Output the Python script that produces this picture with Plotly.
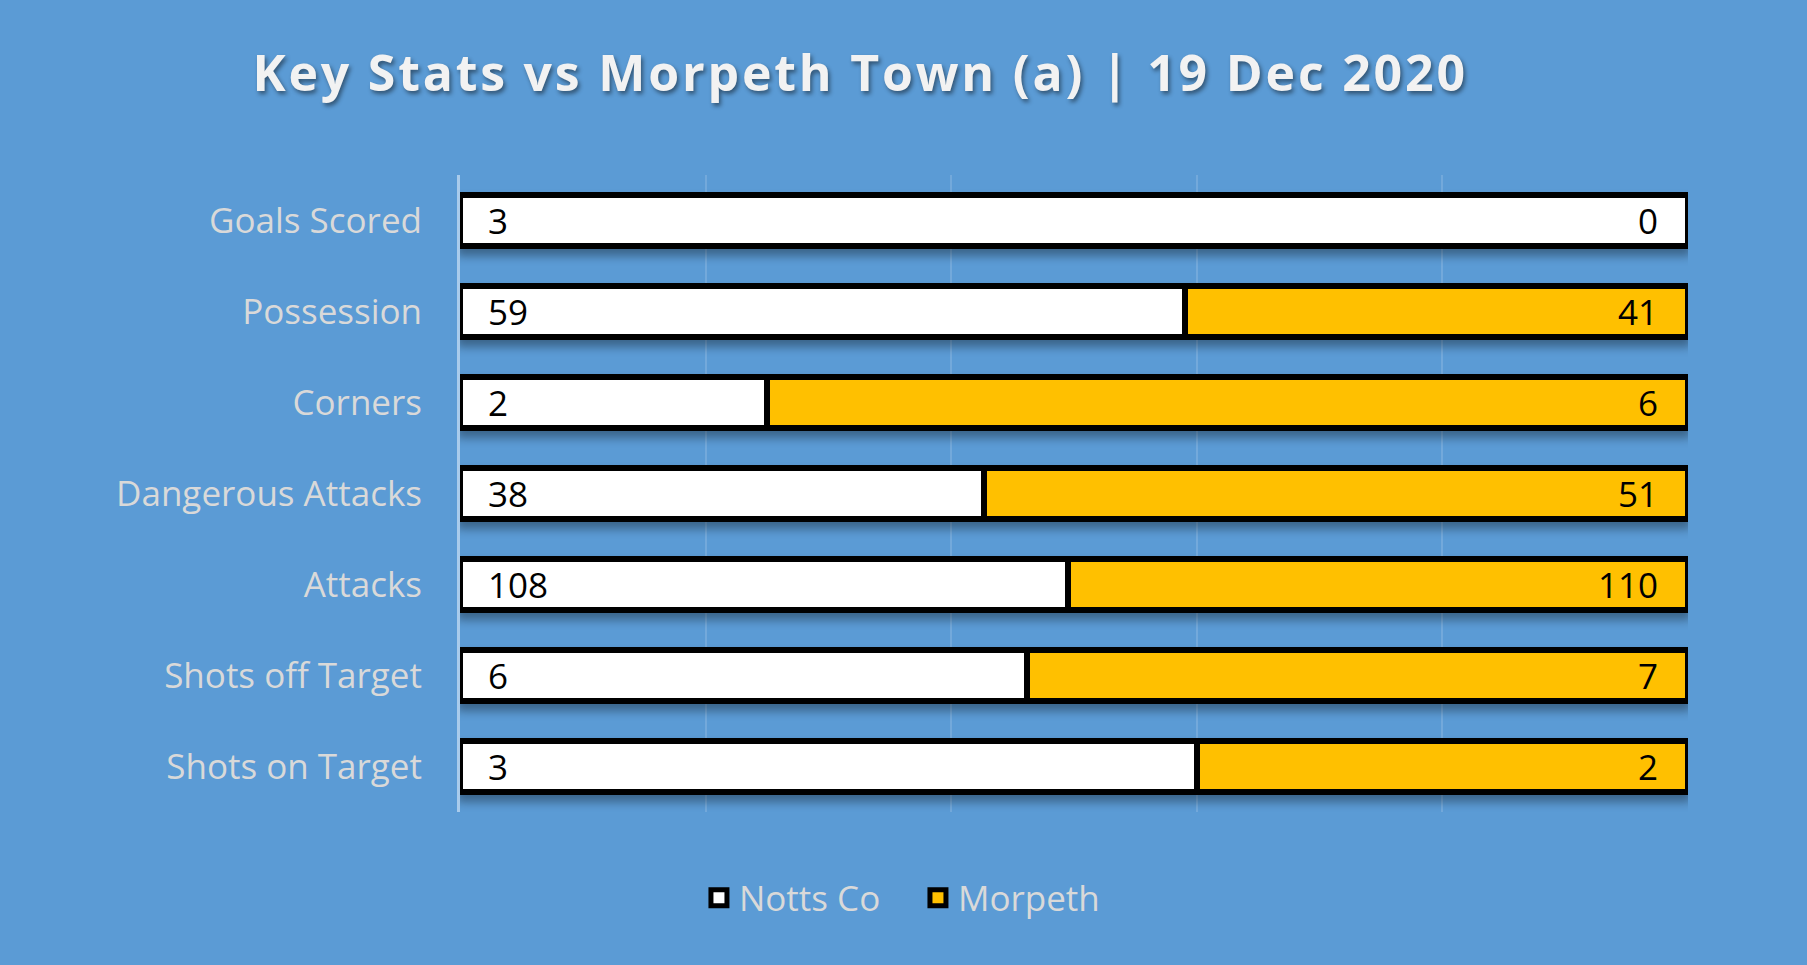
import plotly.graph_objects as go

# Match stats, top to bottom as shown
categories = ["Goals Scored", "Possession", "Corners", "Dangerous Attacks",
              "Attacks", "Shots off Target", "Shots on Target"]
notts = [3, 59, 2, 38, 108, 6, 3]
morpeth = [0, 41, 6, 51, 110, 7, 2]
team_names = ["Notts Co", "Morpeth"]
team_colors = ["#FFFFFF", "#FFC000"]
title_text = "Key Stats vs Morpeth Town (a) | 19 Dec 2020"

bg = "#5B9BD5"
label_grey = "#D9D9D9"
font_family = "Open Sans"

fig = go.Figure()

for name, vals, col in zip(team_names, [notts, morpeth], team_colors):
    fig.add_trace(go.Bar(y=categories, x=vals, orientation="h", name=name, showlegend=False,
                         marker=dict(color=col, line=dict(color="#000000", width=6)),
                         hoverinfo="skip"))

# legend-only entries so the swatches can be bigger than the bar defaults
for name, col in zip(team_names, team_colors):
    fig.add_trace(go.Scatter(x=[None], y=[None], mode="markers", name=name,
                             marker=dict(symbol="square", size=16, color=col,
                                         line=dict(color="#000000", width=5))))

# value labels: home at the left end, away at the right end of each bar
for cat, a, b in zip(categories, notts, morpeth):
    fig.add_annotation(x=0, xref="x domain", y=cat, yref="y", text=str(a),
                       xanchor="left", xshift=26, showarrow=False,
                       font=dict(family=font_family, size=35, color="#000000"))
    fig.add_annotation(x=1, xref="x domain", y=cat, yref="y", text=str(b),
                       xanchor="right", xshift=-28, showarrow=False,
                       font=dict(family=font_family, size=35, color="#000000"))

fig.update_layout(
    width=1807, height=965,
    barmode="stack", barnorm="percent", bargap=0.45,
    paper_bgcolor=bg, plot_bgcolor=bg,
    margin=dict(l=460, r=119, t=175, b=153),
    title=dict(text=title_text, x=0.476, xanchor="center", y=1 - 73 / 965, yanchor="middle",
               font=dict(family=font_family, size=50, color="#F2F2F2", weight="bold",
                         shadow="2px 3px 4px rgba(0,0,0,0.45)")),
    legend=dict(orientation="h", x=0.508, xanchor="center", xref="container",
                y=1 - 898 / 965, yanchor="middle", yref="container",
                font=dict(family=font_family, size=35, color=label_grey),
                itemwidth=30, entrywidth=174, traceorder="normal", bgcolor="rgba(0,0,0,0)"),
    xaxis=dict(range=[0, 100], dtick=20, showticklabels=False, showgrid=True,
               gridcolor="rgba(255,255,255,0.15)", gridwidth=2, zeroline=False, fixedrange=True),
    yaxis=dict(categoryorder="array", categoryarray=categories, autorange="reversed",
               showline=True, linecolor="#A9CBEB", linewidth=3, ticks="",
               ticklabelstandoff=28, fixedrange=True,
               tickfont=dict(family=font_family, size=35, color=label_grey)),
)

# no page margin, spaced-out title letters and a soft shadow under the bars
css = ("body{margin:0}.gtitle{letter-spacing:2.8px}"
       ".barlayer{filter:drop-shadow(0px 7px 5px rgba(0,0,0,0.35))}")
post = "var s=document.createElement('style');s.innerHTML='%s';document.head.appendChild(s);" % css

fig.write_html("out.html", post_script=post, config={"displayModeBar": False})
